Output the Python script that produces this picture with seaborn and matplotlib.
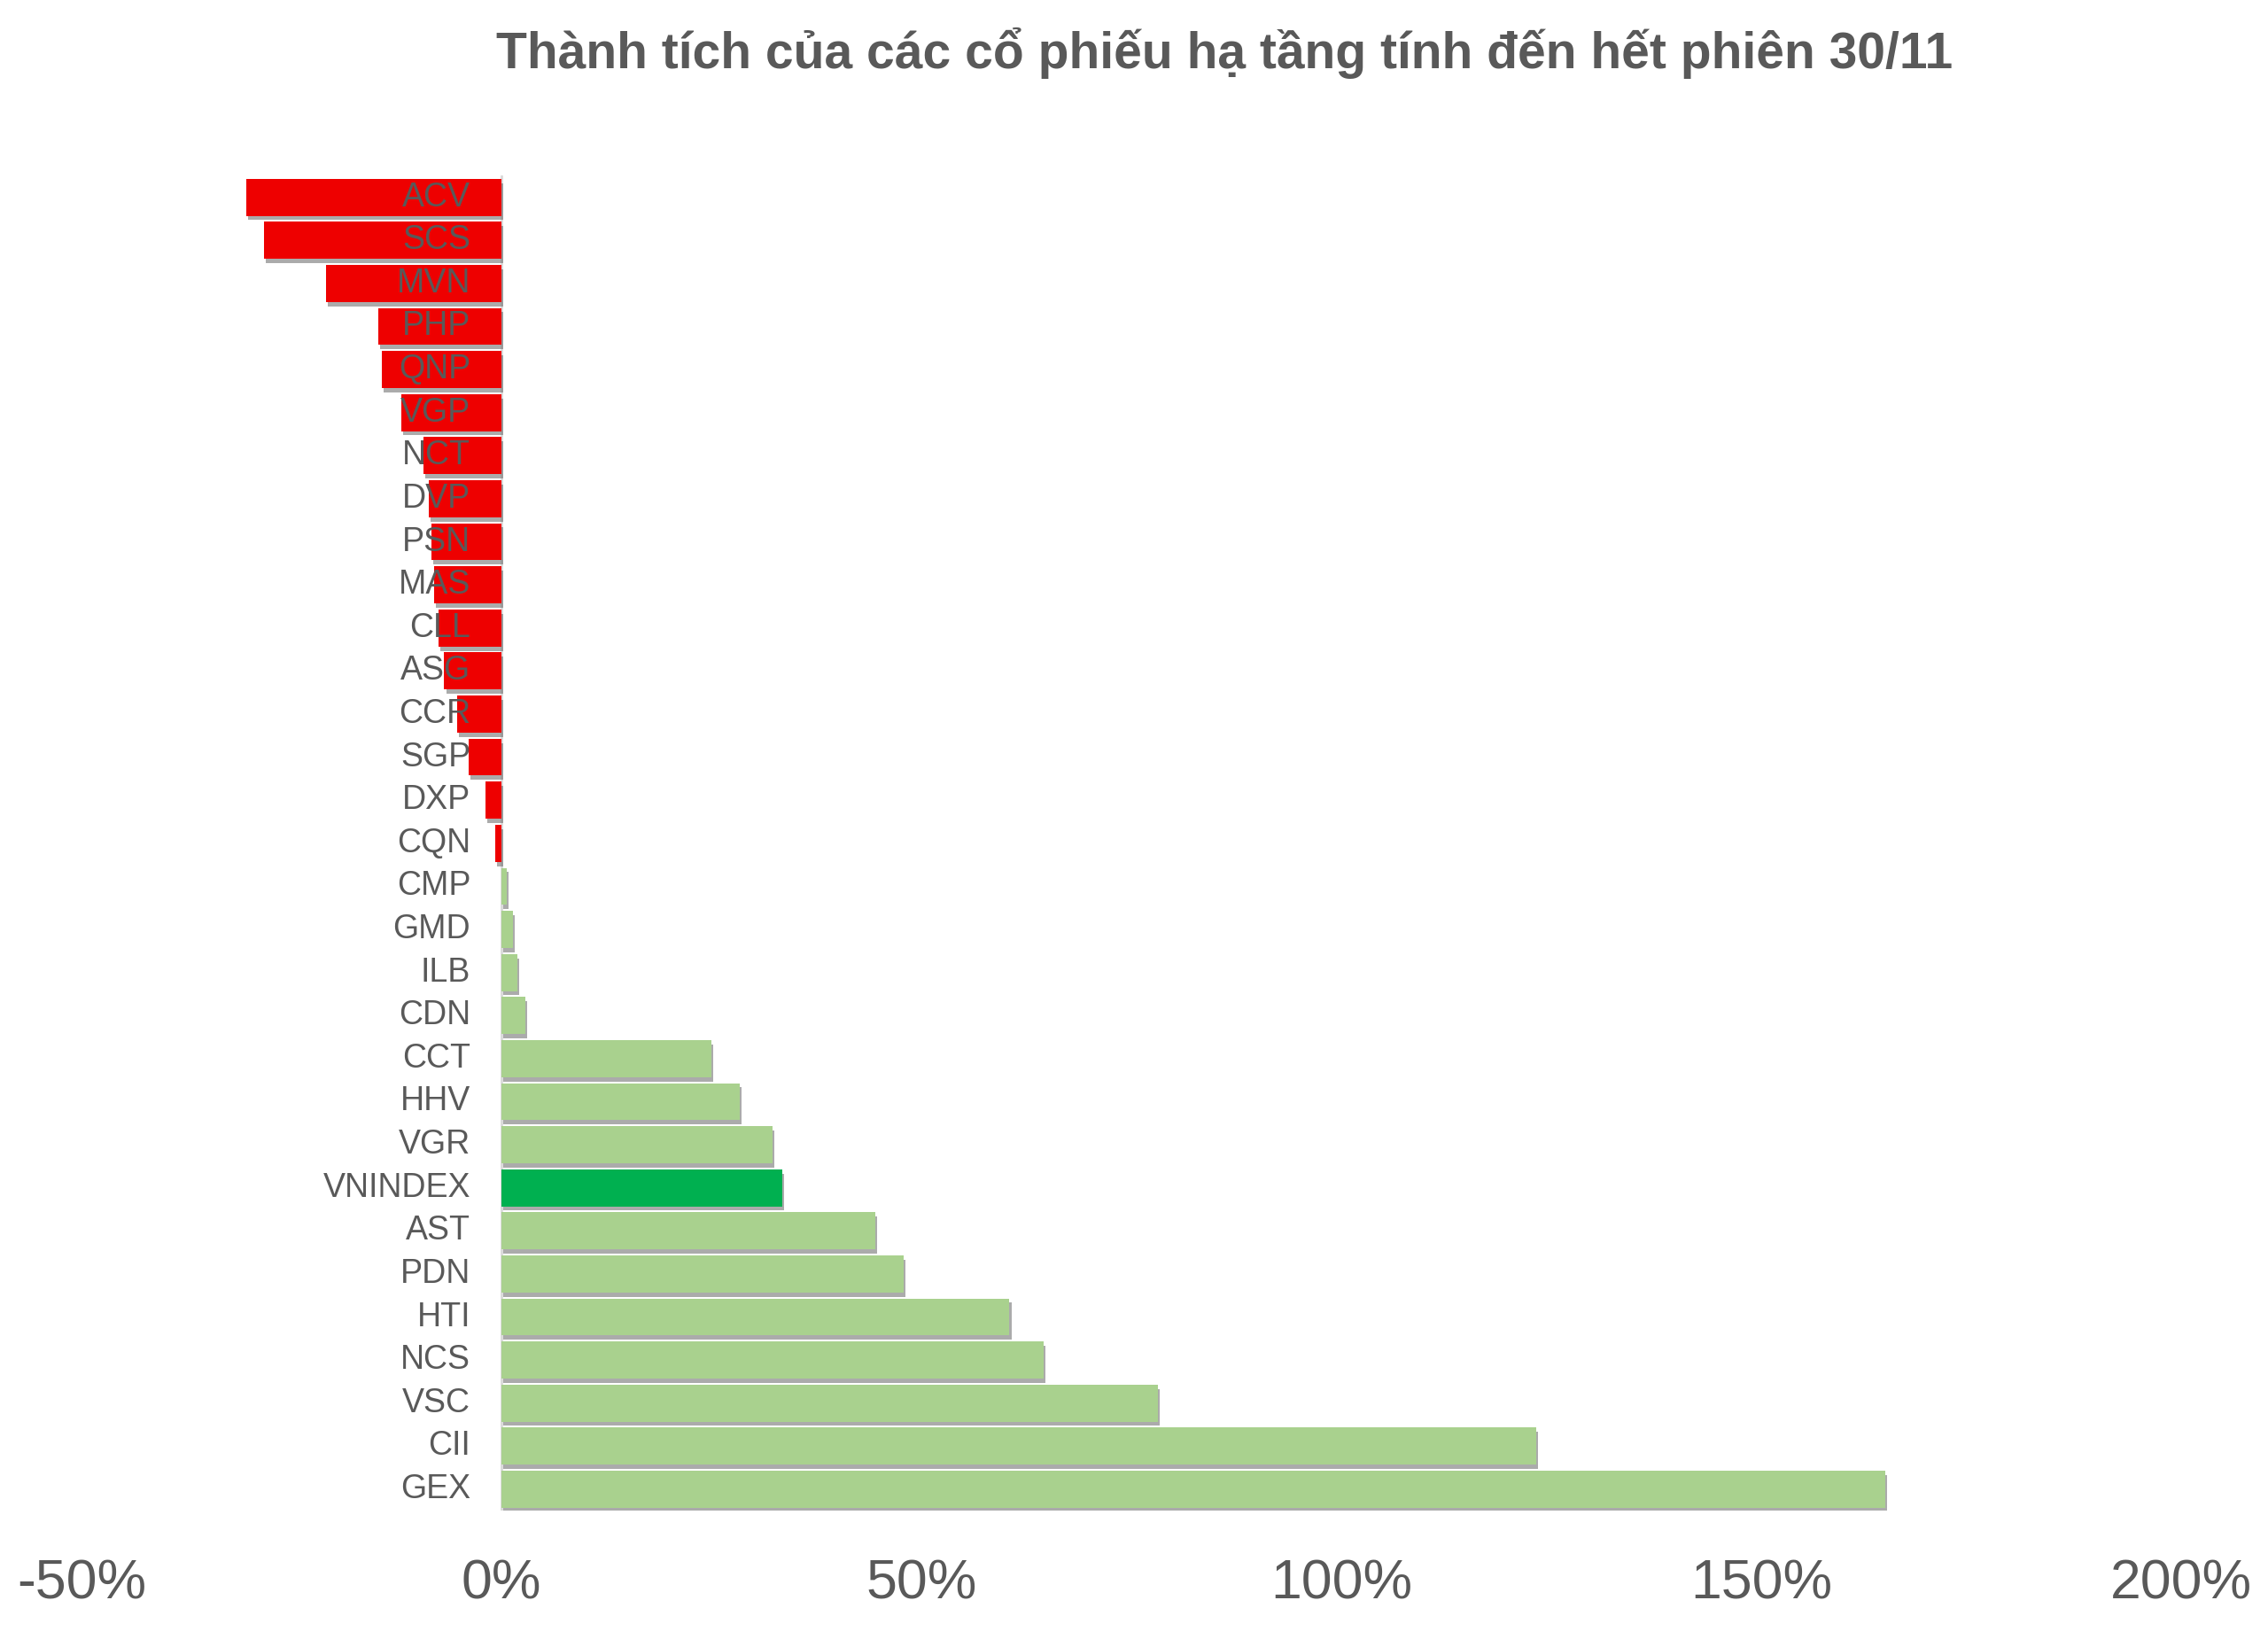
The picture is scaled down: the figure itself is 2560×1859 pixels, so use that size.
import matplotlib

matplotlib.use("Agg")
import matplotlib.pyplot as plt
import matplotlib.patheffects as pe
import seaborn as sns

# values (% change to 30/11)
tickers = [
    "ACV", "SCS", "MVN", "PHP", "QNP", "VGP", "NCT", "DVP", "PSN", "MAS", "CLL",
    "ASG", "CCR", "SGP", "DXP", "CQN", "CMP", "GMD", "ILB", "CDN", "CCT", "HHV",
    "VGR", "VNINDEX", "AST", "PDN", "HTI", "NCS", "VSC", "CII", "GEX",
]
perf = [
    -30.4, -28.3, -20.9, -14.7, -14.2, -11.9, -9.3, -8.6, -8.3, -8.0, -7.5,
    -6.8, -5.3, -3.9, -1.9, -0.7, 0.6, 1.4, 1.9, 2.9, 25.0, 28.4,
    32.3, 33.4, 44.5, 47.9, 60.5, 64.6, 78.2, 123.2, 164.8,
]
x_ticks = [-50, 0, 50, 100, 150, 200]

RED = "#EE0000"
LIGHT_GREEN = "#A9D18E"
INDEX_GREEN = "#00B050"
GREY = "#595959"

colors = {}
for t, v in zip(tickers, perf):
    if t == "VNINDEX":
        colors[t] = INDEX_GREEN
    elif v < 0:
        colors[t] = RED
    else:
        colors[t] = LIGHT_GREEN

sns.set_theme(style="white")
plt.rcParams["font.family"] = ["Liberation Sans", "DejaVu Sans"]

fig = plt.figure(figsize=(25.6, 18.59), dpi=100)
ax = fig.add_axes([0.0359, 0.0827, 0.9258, 0.8106])

ax.axvline(0, color="#D9D9D9", lw=2, zorder=0)
sns.barplot(
    x=perf, y=tickers, hue=tickers, palette=colors, legend=False,
    orient="h", width=0.86, saturation=1, ax=ax, zorder=2,
)
shadow = [pe.SimplePatchShadow(offset=(1.5, -3.5), shadow_rgbFace="#666666", alpha=0.55), pe.Normal()]
for p in ax.patches:
    p.set_path_effects(shadow)
    p.set_linewidth(0)
    p.set_edgecolor("none")

# ticker names sit just left of the zero line, over the red bars
for i, t in enumerate(tickers):
    ax.annotate(
        t, xy=(0, i), xytext=(-25, 0), textcoords="offset points",
        ha="right", va="center", fontsize=27, color=GREY, zorder=5,
    )

ax.set_xlim(-50, 200)
ax.set_ylim(len(tickers) - 0.5, -0.5)
ax.set_xticks(x_ticks)
ax.set_xticklabels([f"{v}%" for v in x_ticks], fontsize=45, color=GREY)
ax.tick_params(axis="x", length=0, pad=38)
ax.set_yticks([])
ax.set_xlabel("")
ax.set_ylabel("")
sns.despine(ax=ax, left=True, bottom=True)

fig.text(
    0.54, 0.968, "Thành tích của các cổ phiếu hạ tầng tính đến hết phiên 30/11",
    ha="center", va="center", fontsize=41, fontweight="bold", color=GREY,
)

fig.savefig("out.png", dpi=100, facecolor="white")
